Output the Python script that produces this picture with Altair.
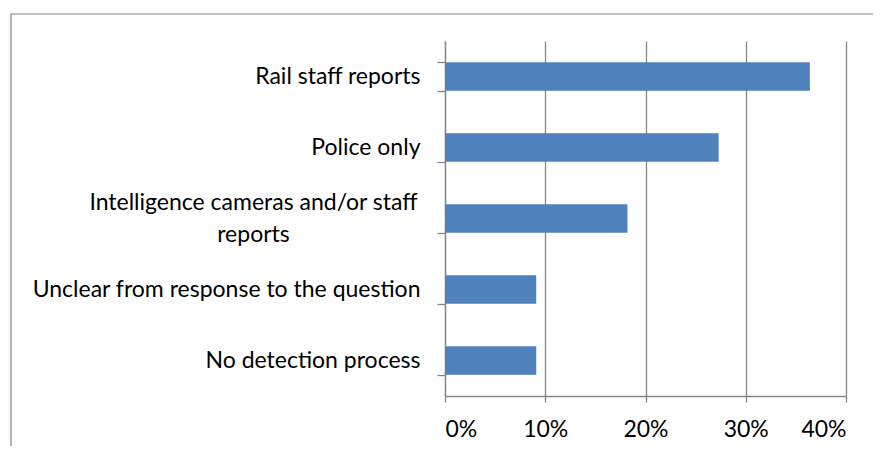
import altair as alt
import pandas as pd

categories = [
    "Rail staff reports",
    "Police only",
    "Intelligence cameras and/or staff reports",
    "Unclear from response to the question",
    "No detection process",
]
shares = [0.364, 0.273, 0.182, 0.091, 0.091]
x_ticks = [0, 0.1, 0.2, 0.3, 0.4]
wrapped_label = ["Intelligence cameras and/or staff", "reports"]

df = pd.DataFrame({"category": categories, "share": shares})

GRAY = "#868686"
FONT = "Lato"
FS = 23
long_cat = categories[2]
test = f"datum.value === '{long_cat}'"
label_expr = (
    f"datum.value === '{long_cat}' ? ['{wrapped_label[0]}', '{wrapped_label[1]}'] : datum.label"
)

bars = alt.Chart(df).mark_bar(color="#4F81BD").encode(
    x=alt.X(
        "share:Q",
        scale=alt.Scale(domain=[0, 0.4], nice=False),
        axis=alt.Axis(
            values=x_ticks,
            format=".0%",
            title=None,
            grid=True,
            gridColor=GRAY,
            gridWidth=1.3,
            domainColor=GRAY,
            domainWidth=1.3,
            tickColor=GRAY,
            tickWidth=1.3,
            tickSize=6,
            labelPadding=16,
            labelFont=FONT,
            labelFontSize=FS,
            labelColor="#000000",
        ),
    ),
    y=alt.Y(
        "category:N",
        sort=categories,
        scale=alt.Scale(paddingInner=0.6, paddingOuter=0.3),
        axis=alt.Axis(
            title=None,
            tickBand="extent",
            domainColor=GRAY,
            domainWidth=1.3,
            tickColor=GRAY,
            tickWidth=1.3,
            tickSize=8,
            labelFont=FONT,
            labelFontSize=FS,
            labelColor="#000000",
            labelLimit=0,
            labelExpr=label_expr,
            labelAlign={"condition": {"test": test, "value": "center"}, "value": "right"},
            labelPadding={"condition": {"test": test, "value": 184}, "value": 17},
            labelOffset={"condition": {"test": test, "value": -16}, "value": 0},
            labelLineHeight=32,
        ),
    ),
)

frame = alt.Chart(alt.Data(values=[{}])).mark_rect(
    fill=None, stroke=GRAY, strokeWidth=1.2
).encode(
    x=alt.value(-434),
    x2=alt.value(520),
    y=alt.value(-27),
    y2=alt.value(460),
)

chart = (
    alt.layer(frame, bars)
    .properties(
        width=401,
        height=355,
        autosize=alt.AutoSizeParams(type="none"),
        padding={"left": 437, "top": 33, "right": 27, "bottom": 50},
    )
    .configure_view(strokeWidth=0)
)

chart.save("out.html", embed_options={"renderer": "svg", "actions": False})
